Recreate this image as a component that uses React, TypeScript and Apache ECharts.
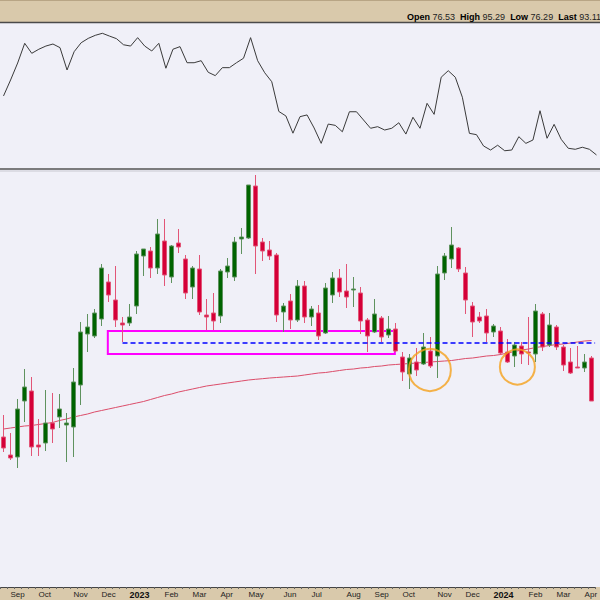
import React, { useEffect, useRef } from "react";
import * as echarts from "echarts";

// Weekly bars (week starting Monday)
const weeks = [
  "2022-08-29","2022-09-05","2022-09-12","2022-09-19","2022-09-26","2022-10-03","2022-10-10","2022-10-17","2022-10-24","2022-10-31",
  "2022-11-07","2022-11-14","2022-11-21","2022-11-28","2022-12-05","2022-12-12","2022-12-19","2022-12-26","2023-01-02","2023-01-09",
  "2023-01-16","2023-01-23","2023-01-30","2023-02-06","2023-02-13","2023-02-20","2023-02-27","2023-03-06","2023-03-13","2023-03-20",
  "2023-03-27","2023-04-03","2023-04-10","2023-04-17","2023-04-24","2023-05-01","2023-05-08","2023-05-15","2023-05-22","2023-05-29",
  "2023-06-05","2023-06-12","2023-06-19","2023-06-26","2023-07-03","2023-07-10","2023-07-17","2023-07-24","2023-07-31","2023-08-07",
  "2023-08-14","2023-08-21","2023-08-28","2023-09-04","2023-09-11","2023-09-18","2023-09-25","2023-10-02","2023-10-09","2023-10-16",
  "2023-10-23","2023-10-30","2023-11-06","2023-11-13","2023-11-20","2023-11-27","2023-12-04","2023-12-11","2023-12-18","2023-12-25",
  "2024-01-01","2024-01-08","2024-01-15","2024-01-22","2024-01-29","2024-02-05","2024-02-12","2024-02-19","2024-02-26","2024-03-04",
  "2024-03-11","2024-03-18","2024-03-25","2024-04-01","2024-04-08"
];

const openP = [
  55.0,53.2,53.0,58.6,59.6,54.2,54.4,56.4,57.0,56.2,
  56.0,60.2,65.3,65.1,66.8,70.5,68.7,66.4,66.4,68.1,
  73.1,73.6,71.9,74.6,71.0,74.4,72.8,70.0,71.8,67.2,
  67.4,67.1,71.5,71.0,74.8,74.9,80.1,74.5,73.7,73.2,
  67.5,68.6,66.7,70.1,67.0,67.4,65.4,69.2,70.9,69.6,
  69.7,69.4,66.7,65.5,66.9,65.2,65.8,63.0,61.3,62.5,
  62.3,63.6,63.1,71.4,72.8,73.9,71.4,68.1,67.0,67.1,
  65.5,65.6,63.5,63.1,64.1,63.5,63.3,67.3,64.2,66.0,
  64.0,62.5,62.0,61.9,62.9
];
const closeP = [
  53.9,52.9,57.8,60.0,54.0,54.0,56.4,55.8,57.8,56.4,
  60.5,65.5,66.0,67.4,71.9,69.2,66.7,66.2,67.0,73.3,
  73.8,71.9,75.3,71.2,74.1,74.0,69.4,71.9,67.5,67.0,
  66.6,71.6,72.1,74.5,75.0,80.2,74.1,73.6,73.1,67.2,
  68.1,66.7,70.1,67.0,67.8,65.1,69.9,70.9,69.5,69.0,
  69.8,66.6,65.1,67.3,65.0,65.8,63.6,61.5,62.9,61.7,
  64.0,62.1,71.3,73.1,74.2,71.8,68.7,66.5,66.6,65.4,
  66.1,63.4,62.5,64.2,63.3,63.4,67.6,64.0,66.2,64.0,
  62.2,61.4,61.9,62.5,58.6
];
const lowP = [
  53.5,52.7,51.9,56.5,53.1,53.1,53.6,54.4,55.9,52.5,
  53.0,58.2,63.5,64.9,66.1,68.5,66.0,64.5,66.1,67.3,
  71.1,70.9,71.3,70.1,70.4,73.4,68.8,68.8,67.2,65.7,
  65.7,66.4,70.9,70.6,73.3,74.8,71.3,72.6,72.7,66.5,
  65.5,65.8,66.5,66.4,66.1,64.7,65.3,68.4,69.0,67.9,
  68.0,65.3,63.5,65.4,64.5,64.9,63.5,60.6,59.8,61.1,
  62.2,61.9,60.9,70.7,71.9,71.5,67.3,65.0,66.4,64.5,
  65.0,63.2,62.4,62.0,62.3,62.2,62.5,63.6,64.0,63.7,
  61.6,61.3,61.9,61.5,58.6
];
const highP = [
  57.2,55.4,58.8,61.8,61.0,56.8,59.7,59.4,59.3,57.4,
  61.9,66.5,67.3,67.8,72.3,71.3,72.1,67.0,68.3,73.6,
  73.8,74.0,76.8,76.8,74.2,75.8,73.2,72.1,73.2,68.8,
  69.4,71.8,72.9,75.0,75.9,80.2,81.2,74.9,74.6,73.4,
  68.4,69.3,70.7,70.6,68.1,68.2,70.4,71.5,71.8,72.3,
  71.0,70.0,66.9,68.8,67.1,67.1,66.4,63.5,63.3,63.9,
  65.4,65.0,72.1,73.4,76.0,74.0,72.0,68.5,67.5,67.8,
  66.3,66.0,64.8,64.5,64.5,67.0,68.3,67.5,67.4,66.2,
  64.2,63.9,64.1,63.3,63.1
];

// Long moving average (red line)
const movingAvg = [
  55.8,55.9,56.0,56.1,56.15,56.25,56.35,56.45,56.65,56.8,
  57.0,57.15,57.3,57.5,57.65,57.8,57.95,58.1,58.25,58.4,
  58.55,58.75,58.95,59.15,59.3,59.5,59.65,59.8,59.95,60.1,
  60.2,60.3,60.4,60.5,60.6,60.7,60.77,60.83,60.9,60.95,
  61.0,61.05,61.1,61.2,61.3,61.4,61.45,61.55,61.65,61.75,
  61.8,61.9,61.95,62.05,62.1,62.2,62.25,62.3,62.35,62.4,
  62.45,62.5,62.55,62.6,62.65,62.75,62.85,62.9,63.0,63.1,
  63.15,63.25,63.4,63.55,63.7,63.8,63.95,64.05,64.15,64.25,
  64.3,64.4,64.5,64.6,64.65
];

// Upper indicator panel (0-100 scale)
const indicator = [
  49.7,60.7,72.4,86.0,79.1,81.9,84.1,85.5,83.0,67.6,
  80.2,86.4,89.4,91.5,92.9,91.0,89.2,85.0,84.1,89.9,
  84.1,80.7,86.0,68.8,81.9,83.7,72.6,72.6,74.0,66.0,
  63.7,69.2,69.2,72.6,75.7,89.9,74.0,65.7,59.5,39.0,
  35.9,24.0,35.4,36.6,27.6,17.0,30.3,29.4,25.0,38.8,
  38.8,33.1,27.4,28.5,26.2,27.4,31.2,23.4,35.0,27.4,
  44.6,37.0,62.6,67.1,62.6,48.8,23.9,23.0,15.2,12.4,
  15.7,11.9,12.4,21.6,17.0,19.3,39.5,20.5,30.1,19.8,
  13.6,12.9,14.3,12.9,9.0
];

// Annotations (week position, price)
const zoneBox = { fromWeek: 14.9, toWeek: 55.9, top: 65.6, bottom: 63.3 };
const supportLine = { fromWeek: 17, toWeek: 84.5, price: 64.43 };
const circleMarks = [
  [60.9, 61.7],
  [73.4, 62.0],
];

const MONTHS = ["Jan","Feb","Mar","Apr","May","Jun","Jul","Aug","Sep","Oct","Nov","Dec"];
const TAN = "#d9c9ab";
const FONT = "Liberation Sans, Arial, sans-serif";

export default function App() {
  const ref = useRef<HTMLDivElement>(null);
  useEffect(() => {
    document.documentElement.style.overflow = "hidden";
    document.body.style.margin = "0";
    document.body.style.overflow = "hidden";
    const chart = echarts.init(ref.current!, null, { renderer: "svg" });
    const candles = weeks.map((_, i) => [openP[i], closeP[i], lowP[i], highP[i]]);
    chart.setOption({
      animation: false,
      backgroundColor: "#f0f0f8",
      grid: [
        { left: 0, right: -2, top: 23, height: 145 },
        { left: 0, right: -2, top: 171, height: 416 },
      ],
      xAxis: [
        { type: "category", gridIndex: 0, data: weeks, boundaryGap: true, show: false },
        {
          type: "category",
          gridIndex: 1,
          data: weeks,
          boundaryGap: true,
          axisLine: { show: true, lineStyle: { color: "#444", width: 1 } },
          axisTick: { show: true, interval: 0, length: 2, lineStyle: { color: "#666" } },
          splitLine: { show: false },
          axisLabel: {
            interval: (_i: number, v: string) => Number(v.slice(8)) <= 7,
            formatter: (v: string) =>
              v.slice(5, 7) === "01" ? `{y|${v.slice(0, 4)}}` : MONTHS[Number(v.slice(5, 7)) - 1],
            align: "left",
            margin: 3,
            fontSize: 8,
            color: "#222",
            fontFamily: FONT,
            hideOverlap: false,
            rich: { y: { fontWeight: "bold", fontSize: 9, color: "#111", fontFamily: FONT } },
          },
        },
        { type: "value", gridIndex: 1, min: -0.5, max: 84.5, show: false },
      ],
      yAxis: [
        { type: "value", gridIndex: 0, min: 0, max: 100, show: false },
        { type: "value", gridIndex: 1, min: 40.0, max: 81.6, show: false },
      ],
      series: [
        {
          type: "line",
          xAxisIndex: 0,
          yAxisIndex: 0,
          data: indicator,
          symbol: "none",
          lineStyle: { color: "#3a3a3a", width: 1 },
          emphasis: { disabled: true },
        },
        {
          type: "line",
          xAxisIndex: 1,
          yAxisIndex: 1,
          data: movingAvg,
          symbol: "none",
          z: 1,
          lineStyle: { color: "#dc4d6a", width: 1 },
          emphasis: { disabled: true },
        },
        {
          type: "candlestick",
          xAxisIndex: 1,
          yAxisIndex: 1,
          data: candles,
          barWidth: 5,
          z: 3,
          itemStyle: {
            color: "#006400",
            color0: "#d40038",
            borderColor: "#5f925f",
            borderColor0: "#e25577",
            borderWidth: 1,
          },
          emphasis: { disabled: true },
        },
        {
          type: "scatter",
          xAxisIndex: 2,
          yAxisIndex: 1,
          data: circleMarks,
          z: 6,
          symbol: "circle",
          symbolSize: (_v: any, p: any) => (p.dataIndex === 0 ? 42 : 35),
          itemStyle: { color: "rgba(0,0,0,0)", borderColor: "#f5a11c", borderWidth: 2 },
          emphasis: { disabled: true },
          markArea: {
            silent: true,
            itemStyle: { color: "rgba(0,0,0,0)", borderColor: "#ff00ff", borderWidth: 2 },
            data: [[
              { coord: [zoneBox.fromWeek, zoneBox.top] },
              { coord: [zoneBox.toWeek, zoneBox.bottom] },
            ]],
          },
          markLine: {
            silent: true,
            symbol: ["none", "none"],
            label: { show: false },
            lineStyle: { color: "#0000ff", type: [5, 3], width: 1.5 },
            data: [[
              { coord: [supportLine.fromWeek, supportLine.price] },
              { coord: [supportLine.toWeek, supportLine.price] },
            ]],
          },
        },
      ],
      graphic: [
        { type: "rect", z: -1, shape: { x: 0, y: 0, width: 600, height: 22 }, style: { fill: TAN } },
        { type: "line", z: 1, shape: { x1: 0, y1: 0.5, x2: 600, y2: 0.5 }, style: { stroke: "#b8a585", lineWidth: 1 } },
        { type: "line", z: 1, shape: { x1: 0, y1: 22.5, x2: 600, y2: 22.5 }, style: { stroke: "#4a4a4a", lineWidth: 1.5 } },
        { type: "line", z: 1, shape: { x1: 0, y1: 169, x2: 600, y2: 169 }, style: { stroke: "#555", lineWidth: 1.5 } },
        { type: "line", z: 1, shape: { x1: 0, y1: 171, x2: 600, y2: 171 }, style: { stroke: "#c8c8d0", lineWidth: 1 } },
        { type: "rect", z: -1, shape: { x: 0, y: 587, width: 600, height: 13 }, style: { fill: TAN } },
        {
          type: "text",
          z: 10,
          x: 601,
          y: 17,
          style: {
            text: "{b|Open} 76.53  {b|High} 95.29  {b|Low} 76.29  {b|Last} 93.11",
            align: "right",
            verticalAlign: "middle",
            fontSize: 9,
            fontFamily: FONT,
            fill: "#222",
            rich: { b: { fontWeight: "bold", fontSize: 9, fontFamily: FONT, fill: "#000" } },
          },
        },
      ],
    });
    return () => chart.dispose();
  }, []);
  return <div ref={ref} style={{ width: 600, height: 600, overflow: "hidden" }} />;
}
